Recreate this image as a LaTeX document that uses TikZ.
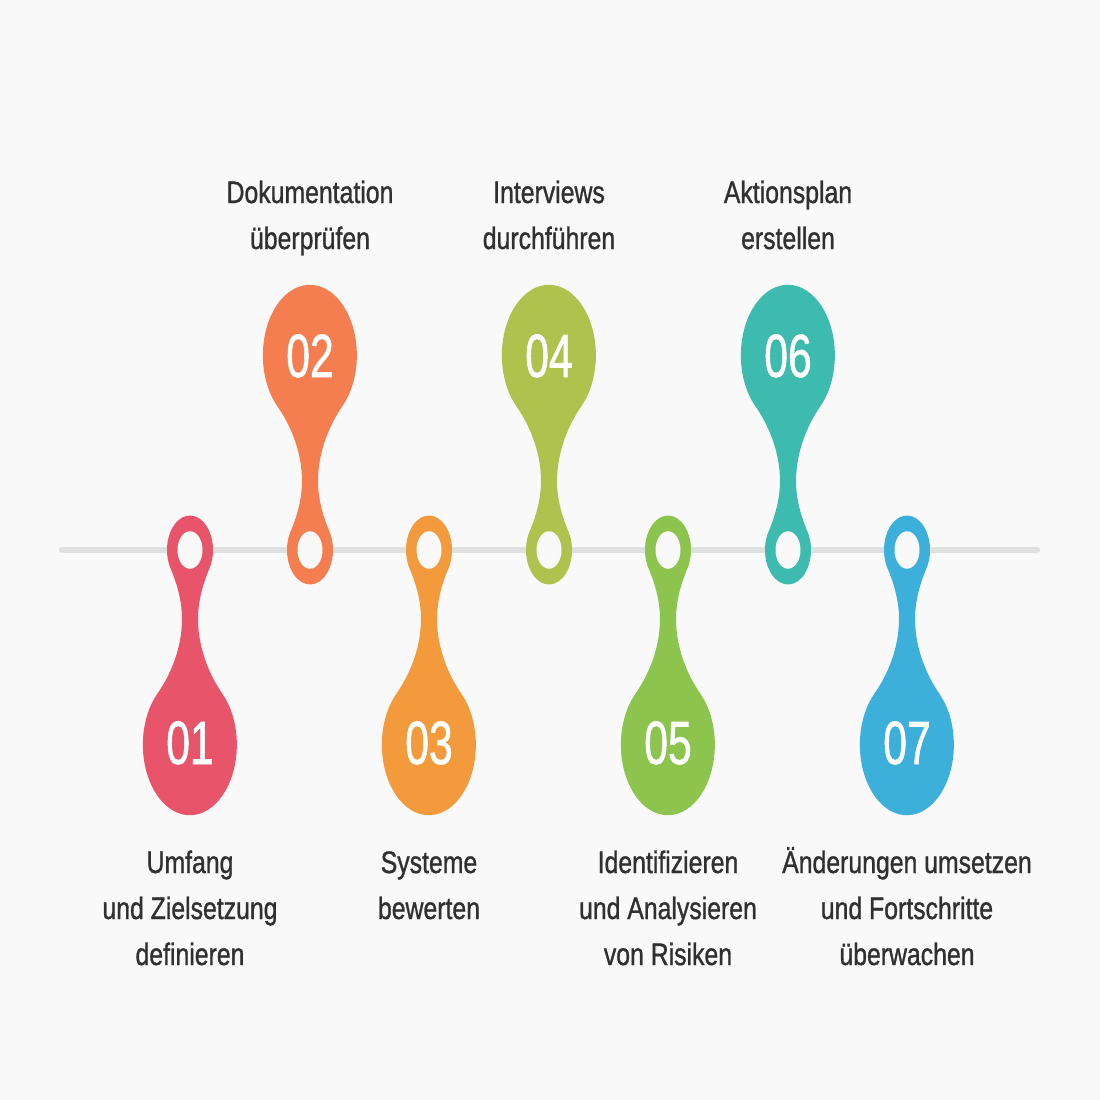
\documentclass[tikz,border=0pt]{standalone}
\usepackage{fontspec}
\setmainfont{Liberation Sans}
\newfontfamily\medfont{Liberation Sans}[FakeBold=1.2]
\definecolor{bg}{HTML}{F9F9F9}
\definecolor{lineclr}{HTML}{E0E0E0}
\definecolor{txt}{HTML}{303030}
\definecolor{c1}{HTML}{E8546A}
\definecolor{c2}{HTML}{F47E50}
\definecolor{c3}{HTML}{F39A3C}
\definecolor{c4}{HTML}{AFC24E}
\definecolor{c5}{HTML}{8CC44E}
\definecolor{c6}{HTML}{3DBBAE}
\definecolor{c7}{HTML}{3CAFDA}
\newcommand\pinshape[3]{%
\begin{scope}[shift={(#1,550)}, yscale=#2]
\fill[#3] (19.5,12.2) .. controls (11.5,24.7) and (8,36) .. (8,46)
  .. controls (8,62) and (16,80) .. (32.5,96)
  arc[start angle=-46,end angle=226,radius=47]
  .. controls (-16,80) and (-8,62) .. (-8,46)
  .. controls (-8,36) and (-11.5,24.7) .. (-19.5,12.2)
  arc[start angle=148,end angle=392,radius=23] -- cycle;
\fill[bg] (0,0) circle[radius=12.5];
\end{scope}}
\tikzset{
  num/.style={inner sep=0pt, text=white, font=\medfont\fontsize{61}{61}\selectfont},
  lbl/.style={inner sep=0pt, anchor=base, text=txt, font=\medfont\fontsize{31}{46}\selectfont},
}
\newcommand\lines[1]{\scalebox{0.8}[1]{\begin{tabular}[t]{@{}c@{}}#1\end{tabular}}}
\begin{document}
\begin{tikzpicture}[x=1pt,y=-1pt]
\useasboundingbox (0,0) rectangle (1100,1100);
\fill[bg] (0,0) rectangle (1100,1100);
\coordinate (tl0) at (62,550);
\coordinate (tl1) at (1037,550);
\draw[lineclr, line width=6.5pt, line cap=round] (tl0) -- (tl1);
% pins
\pinshape{190}{1.5}{c1}
\pinshape{310}{-1.5}{c2}
\pinshape{429}{1.5}{c3}
\pinshape{549}{-1.5}{c4}
\pinshape{668}{1.5}{c5}
\pinshape{788}{-1.5}{c6}
\pinshape{907}{1.5}{c7}
% numbers
\node[num] (n1) at (190,743) {\scalebox{0.7}[1]{01}};
\node[num] (n2) at (310,356) {\scalebox{0.7}[1]{02}};
\node[num] (n3) at (429,743) {\scalebox{0.7}[1]{03}};
\node[num] (n4) at (549,356) {\scalebox{0.7}[1]{04}};
\node[num] (n5) at (668,743) {\scalebox{0.7}[1]{05}};
\node[num] (n6) at (788,356) {\scalebox{0.7}[1]{06}};
\node[num] (n7) at (907,743) {\scalebox{0.7}[1]{07}};
% labels
\node[lbl] (l1) at (190,873) {\lines{Umfang\\und Zielsetzung\\definieren}};
\node[lbl] (l2) at (310,203) {\lines{Dokumentation\\überprüfen}};
\node[lbl] (l3) at (429,873) {\lines{Systeme\\bewerten}};
\node[lbl] (l4) at (549,203) {\lines{Interviews\\durchführen}};
\node[lbl] (l5) at (668,873) {\lines{Identifizieren\\und Analysieren\\von Risiken}};
\node[lbl] (l6) at (788,203) {\lines{Aktionsplan\\erstellen}};
\node[lbl] (l7) at (907,873) {\lines{Änderungen umsetzen\\und Fortschritte\\überwachen}};
\end{tikzpicture}
\end{document}
